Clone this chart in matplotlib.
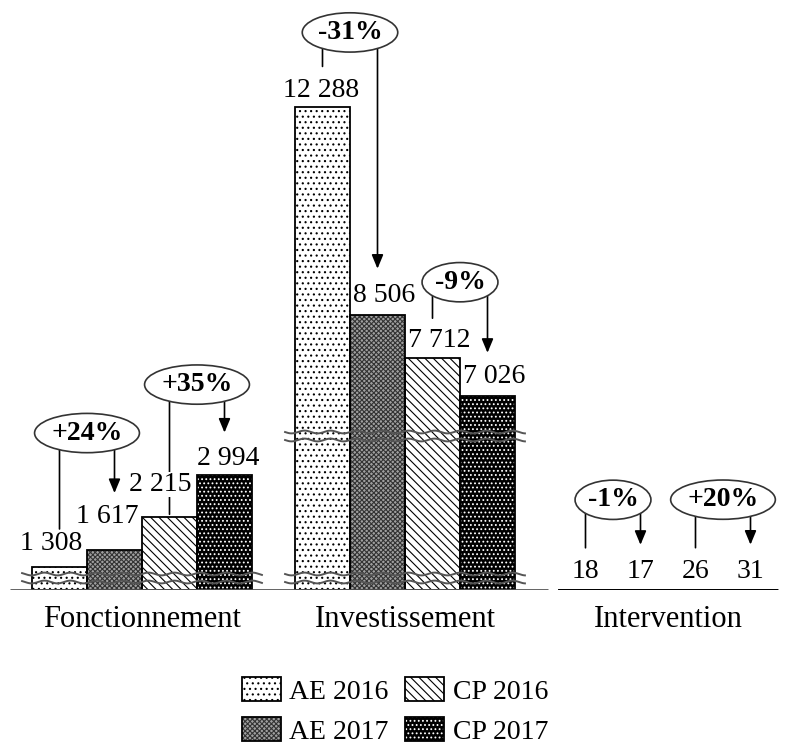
import numpy as np
import matplotlib
matplotlib.use("Agg")
from matplotlib import pyplot as plt
from matplotlib.patches import Patch
from matplotlib.legend_handler import HandlerTuple

plt.rcParams['font.family'] = ['Liberation Serif', 'DejaVu Serif']
plt.rcParams['hatch.linewidth'] = 0.8

categories = ['Fonctionnement', 'Investissement', 'Intervention']
series = ['AE 2016', 'AE 2017', 'CP 2016', 'CP 2017']
ae_2016 = [1308, 12288, 18]
ae_2017 = [1617, 8506, 17]
cp_2016 = [2215, 7712, 26]
cp_2017 = [2994, 7026, 31]
ae_change = ['+24%', '-31%', '-1%']
cp_change = ['+35%', '-9%', '+20%']

# broken axis: piecewise linear scale (value -> pixel height)
V_KNOTS = [0, 1107, 3698, 6296, 20000]
H_KNOTS = [0, 12, 154, 154.2, 154.2 + (20000 - 6296) * 0.0548]
LOW_BREAK, HIGH_BREAK = 12, 154
group_breaks = [[LOW_BREAK], [LOW_BREAK, HIGH_BREAK], []]


def fwd(v):
    return np.interp(v, V_KNOTS, H_KNOTS)


def inv(h):
    return np.interp(h, H_KNOTS, V_KNOTS)


fig = plt.figure(figsize=(7.86, 7.47), dpi=100)
ax = fig.add_axes([0, 157 / 747, 1, 590 / 747])
ax.set_yscale('function', functions=(fwd, inv))
ax.set_ylim(0, inv(590))
ax.set_xlim(-142 / 263, 2 + 118 / 263)

w = 55 / 263
x = np.arange(len(categories))
# value label placement in pixels (per series, per group)
label_dx = [[-8, -1, 0], [-7, 7, 0], [-9, 7, 0], [4, 7, 0]]
label_dy = [[11, 4, 6], [21, 7, 6], [20, 5, 6], [4, 7, 6]]
styles = [
    dict(fc='white', hc='black', hatch='...'),
    dict(fc='#a0a0a0', hc='#333333', hatch='xxxxxxx'),
    dict(fc='white', hc='black', hatch='\\\\\\\\'),
    dict(fc='black', hc='white', hatch='....'),
]
values = [ae_2016, ae_2017, cp_2016, cp_2017]
handles = []
for i, (vals, st) in enumerate(zip(values, styles)):
    xs = x + (i - 1.5) * w
    ax.bar(xs, vals, w, color=st['fc'], edgecolor=st['hc'], hatch=st['hatch'],
           linewidth=0, zorder=2)
    ax.bar(xs, vals, w, fill=False, edgecolor='black', linewidth=1.3, zorder=2.5)
    for g, (xi, v) in enumerate(zip(xs, vals)):
        ax.annotate(f"{v:,}".replace(',', ' '), (xi, v),
                    xytext=(label_dx[i][g], label_dy[i][g]),
                    textcoords='offset pixels', ha='center', va='bottom',
                    fontsize=20, zorder=1.5,
                    bbox=dict(boxstyle='square,pad=0', fc='white', ec='none'))
    handles.append((Patch(facecolor=st['fc'], edgecolor=st['hc'], hatch=st['hatch'], linewidth=0),
                    Patch(fill=False, edgecolor='black', linewidth=1.3)))

# break marks
for g, brk in enumerate(group_breaks):
    xx = np.linspace(x[g] - 0.456, x[g] + 0.456, 300)
    for h in brk:
        for d in (-4, 4):
            yy = inv(h + d + 1.4 * np.sin(2 * np.pi * xx * 263 / 26))
            ax.plot(xx, yy, color='#555555', lw=1.4, zorder=3)

# baselines
ax.hlines(0, -0.502, 1.544, color='#555555', lw=2, zorder=4)
ax.hlines(0, 1.582, 2.418, color='black', lw=2, zorder=4)

for s in ax.spines.values():
    s.set_visible(False)
ax.set_yticks([])
ax.set_xticks(x, categories, fontsize=22)
ax.tick_params(axis='x', length=0, pad=11)

# change annotations: (series a, series b, labels, ellipse offset, line offset, arrow offset)
pairs = [(0, 1, ae_change, [117, 75, 90], [38, 41, 42], [57, 46, 45]),
         (2, 3, cp_change, [90, 76, 90], [3, 40, 42], [42, 43, 45])]
for a, b, labels, e_off, l_off, a_off in pairs:
    for g in range(len(categories)):
        xa, ya = ax.transData.transform((x[g] + (a - 1.5) * w, values[a][g]))
        xb, yb = ax.transData.transform((x[g] + (b - 1.5) * w, values[b][g]))
        cy = max(ya, yb) + e_off[g]
        cx = (xa + xb) / 2
        ax.annotate('', xy=(xa, ya + l_off[g]), xycoords='figure pixels',
                    xytext=(xa, cy), textcoords='figure pixels',
                    arrowprops=dict(arrowstyle='-', color='black', lw=1.2,
                                    shrinkA=0, shrinkB=0), zorder=1.2)
        ax.annotate('', xy=(xb, yb + a_off[g]), xycoords='figure pixels',
                    xytext=(xb, cy), textcoords='figure pixels',
                    arrowprops=dict(arrowstyle='-|>,head_length=0.6,head_width=0.25',
                                    mutation_scale=14, color='black', lw=1.2,
                                    shrinkA=0, shrinkB=0), zorder=1.2)
        ax.annotate(labels[g], (cx, cy), xycoords='figure pixels', ha='center',
                    va='center', fontsize=20, fontweight='bold', zorder=6,
                    bbox=dict(boxstyle='ellipse,pad=0.05', fc='white', ec='#333333', lw=1.2))

fig.legend(handles, series, loc='center', bbox_to_anchor=(395 / 786, 1 - 711 / 747),
           ncol=2, frameon=False, fontsize=20, handlelength=1.4, handleheight=0.95,
           handletextpad=0.3, columnspacing=0.6, labelspacing=0.45,
           handler_map={tuple: HandlerTuple(ndivide=1)})

fig.savefig('out.png', dpi=100)
